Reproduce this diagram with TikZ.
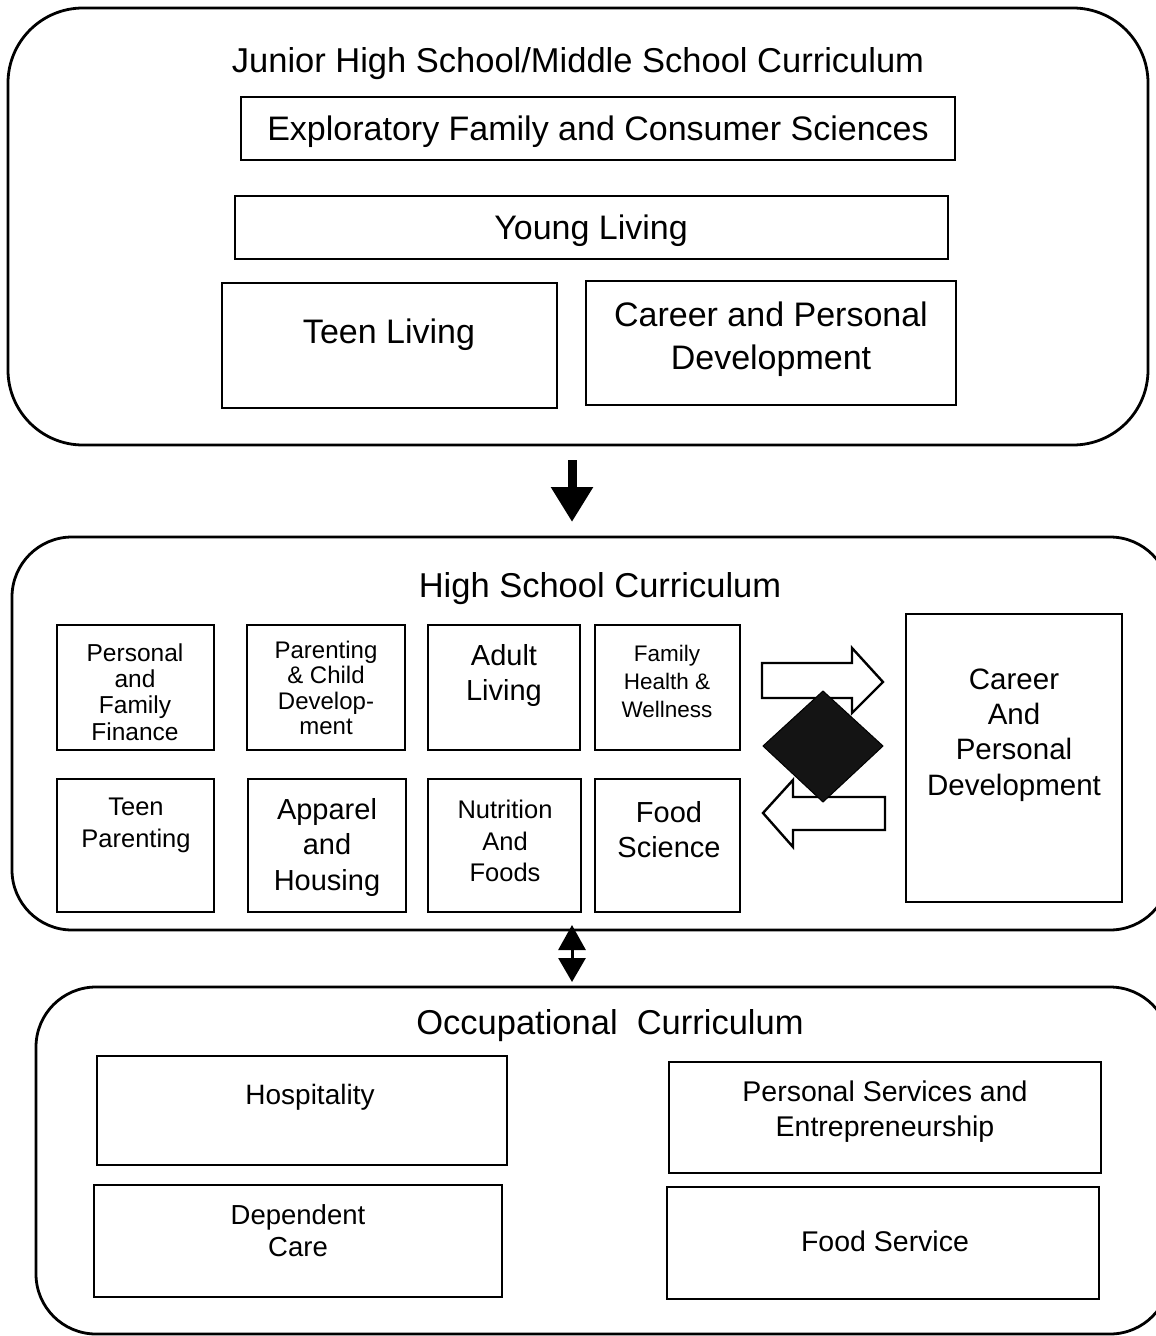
\documentclass[tikz,border=0pt]{standalone}
\usepackage{fontspec}
\setmainfont{Liberation Sans}
\usetikzlibrary{arrows.meta}
\tikzset{
  panel/.style={draw, line width=2.8pt},
  box/.style={draw, line width=2.8pt, rectangle, inner sep=0pt},
  lbl/.style={align=center, inner sep=0pt},
  fs/.style 2 args={font=\fontsize{#1}{#2}\selectfont},
  hollow/.style={draw, fill=white, line width=2.4pt, line join=miter},
}
\begin{document}
\begin{tikzpicture}[x=1pt,y=-1pt]
\useasboundingbox (0,0) rectangle (1156,1336);

% ---------- Panel 1 ----------
\draw[panel, rounded corners=75pt] (8,8) rectangle (1148,445);
\node[lbl, fs={34.5}{40}] (t1) at (578,64) {Junior High School/Middle School Curriculum};
\node[box, minimum width=714pt, minimum height=63pt] (explo) at (598,128.5) {};
\node[lbl, fs={34}{40}] (exploT) at (598,132) {Exploratory Family and Consumer Sciences};
\node[box, minimum width=713pt, minimum height=63pt] (young) at (591.5,227.5) {};
\node[lbl, fs={34}{40}] (youngT) at (591,231) {Young Living};
\node[box, minimum width=335pt, minimum height=125pt] (teen) at (389.5,345.5) {};
\node[lbl, fs={34}{40}] (teenT) at (389,335) {Teen Living};
\node[box, minimum width=370pt, minimum height=124pt] (cpd1) at (771,343) {};
\node[lbl, fs={34}{43}] (cpd1T) at (771,339) {Career and Personal\\Development};

% arrow panel1 -> panel2
\coordinate (d1) at (572,460);
\coordinate (d2) at (572,522);
\draw[line width=9pt, -{Triangle[width=40pt,length=35pt]}] (d1) -- (d2);

% ---------- Panel 2 ----------
\draw[panel, rounded corners=60pt] (12,537) rectangle (1170,930);
\node[lbl, fs={34.5}{40}] (t2) at (600,589) {High School Curriculum};

\node[box, minimum width=157pt, minimum height=125pt] (pff) at (135.5,687.5) {};
\node[lbl, fs={24.5}{26.3}] (pffT) at (135,692) {Personal\\and\\Family\\Finance};
\node[box, minimum width=158pt, minimum height=125pt] (pcd) at (326,687.5) {};
\node[lbl, fs={24}{25.3}] (pcdT) at (326,688) {Parenting\\\&\ Child\\Develop-\\ment};
\node[box, minimum width=152pt, minimum height=125pt] (adult) at (504,687.5) {};
\node[lbl, fs={29}{35}] (adultT) at (504,675) {Adult\\Living};
\node[box, minimum width=145pt, minimum height=125pt] (fhw) at (667.5,687.5) {};
\node[lbl, fs={22.5}{28}] (fhwT) at (667,681) {Family\\Health \&\\Wellness};

\node[box, minimum width=157pt, minimum height=133pt] (tp) at (135.5,845.5) {};
\node[lbl, fs={25.5}{32}] (tpT) at (136,825) {Teen\\Parenting};
\node[box, minimum width=158pt, minimum height=133pt] (app) at (327,845.5) {};
\node[lbl, fs={29}{35.5}] (appT) at (327,847) {Apparel\\and\\Housing};
\node[box, minimum width=153pt, minimum height=133pt] (nut) at (504.5,845.5) {};
\node[lbl, fs={25.5}{31.5}] (nutT) at (505,841) {Nutrition\\And\\Foods};
\node[box, minimum width=145pt, minimum height=133pt] (fsci) at (667.5,845.5) {};
\node[lbl, fs={29}{35}] (fsciT) at (669,830) {Food\\Science};

\node[box, minimum width=216pt, minimum height=288pt] (cpd2) at (1014,758) {};
\node[lbl, fs={29.5}{35.3}] (cpd2T) at (1014,735) {Career\\And\\Personal\\Development};

% hollow arrows and diamond
\draw[hollow] (762,663) -- (852,663) -- (852,648) -- (883,682) -- (852,713) -- (852,698) -- (762,698) -- cycle;
\draw[hollow] (885,797) -- (793,797) -- (793,780) -- (763,813) -- (793,847) -- (793,830) -- (885,830) -- cycle;
\filldraw[fill=black!92, draw=black, line width=1pt] (763,746) -- (823,691) -- (883,746) -- (823,802) -- cycle;

% double arrow panel2 <-> panel3
\coordinate (u1) at (572,925);
\coordinate (u2) at (572,982);
\draw[line width=3pt, {Triangle[width=27pt,length=25pt]}-{Triangle[width=27pt,length=24pt]}] (u1) -- (u2);

% ---------- Panel 3 ----------
\draw[panel, rounded corners=60pt] (36,987) rectangle (1170,1334);
\node[lbl, fs={34.5}{40}] (t3) at (610,1026) {Occupational\ \ Curriculum};

\node[box, minimum width=410pt, minimum height=109pt] (hosp) at (302,1110.5) {};
\node[lbl, fs={28}{32}] (hospT) at (310,1097) {Hospitality};
\node[box, minimum width=432pt, minimum height=111pt] (pse) at (885,1117.5) {};
\node[lbl, fs={28.5}{35}] (pseT) at (885,1112) {Personal Services and\\Entrepreneurship};
\node[box, minimum width=408pt, minimum height=112pt] (dep) at (298,1241) {};
\node[lbl, fs={27.5}{32}] (depT) at (298,1231) {Dependent\\Care};
\node[box, minimum width=432pt, minimum height=112pt] (fserv) at (883,1243) {};
\node[lbl, fs={28.5}{32}] (fservT) at (885,1241) {Food Service};
\end{tikzpicture}
\end{document}
